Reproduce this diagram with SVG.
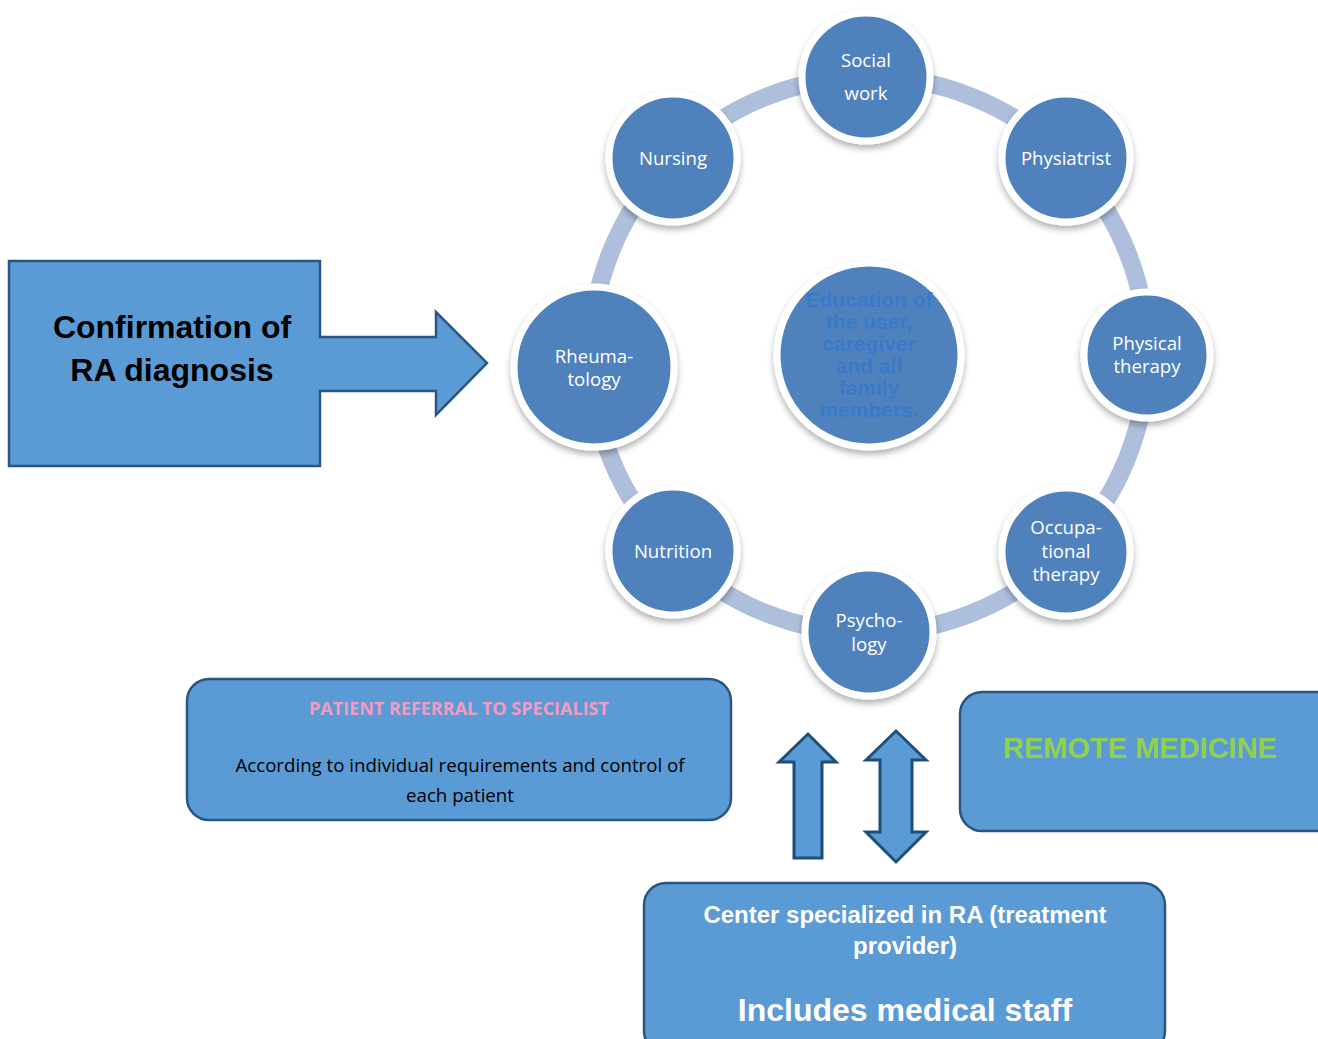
<svg xmlns="http://www.w3.org/2000/svg" width="1318" height="1039" viewBox="0 0 1318 1039">
<style>
.node{fill:#4f81bd;stroke:#fff;stroke-width:7;filter:url(#sh)}
.nt{font-family:"Open Sans","Liberation Sans",sans-serif;font-size:18.6px;fill:#fff;text-anchor:middle}
.box{fill:#5b9bd5;stroke:#2a5686;stroke-width:2.5}
.arr{fill:#5b9bd5;stroke:#1f4e79;stroke-width:3;stroke-linejoin:miter}
</style>
<defs>
<filter id="sh" x="-20%" y="-20%" width="140%" height="150%">
<feDropShadow dx="0" dy="4" stdDeviation="3" flood-color="#000" flood-opacity="0.3"/>
</filter>
</defs>
<rect width="1318" height="1039" fill="#fff"/>
<g id="connectors">
<circle cx="869" cy="355" r="278" fill="none" stroke="#aebfdc" stroke-width="18"/>
<polygon class="arr" points="779,762 808,734 836,762 822,762 822,858 794,858 794,762"/>
<polygon class="arr" points="866,760 896,731 926,760 912,760 912,832 926,832 896,862 866,832 880,832 880,760"/>
</g>
<g id="confirm">
<polygon class="box" points="9,261 320,261 320,337 436,337 436,312 487,363 436,415 436,391 320,391 320,466 9,466"/>
<text x="172" y="338" font-family="Liberation Sans,Arial,sans-serif" font-weight="bold" font-size="32" text-anchor="middle" fill="#000">Confirmation of</text>
<text x="172" y="381" font-family="Liberation Sans,Arial,sans-serif" font-weight="bold" font-size="32" text-anchor="middle" fill="#000">RA diagnosis</text>
</g>
<g id="social"><circle class="node" cx="866" cy="77" r="64"/><text class="nt" x="866" y="67">Social</text><text class="nt" x="866" y="100">work</text></g>
<g id="physiatrist"><circle class="node" cx="1066" cy="158" r="64"/><text class="nt" x="1066" y="165">Physiatrist</text></g>
<g id="physical"><circle class="node" cx="1147" cy="355" r="63"/><text class="nt" x="1147" y="350">Physical</text><text class="nt" x="1147" y="373">therapy</text></g>
<g id="occupational"><circle class="node" cx="1066" cy="552" r="64"/><text class="nt" x="1066" y="534">Occupa-</text><text class="nt" x="1066" y="558">tional</text><text class="nt" x="1066" y="581">therapy</text></g>
<g id="psychology"><circle class="node" cx="869" cy="632" r="64"/><text class="nt" x="869" y="627">Psycho-</text><text class="nt" x="869" y="651">logy</text></g>
<g id="nutrition"><circle class="node" cx="673" cy="551" r="64"/><text class="nt" x="673" y="558">Nutrition</text></g>
<g id="rheumatology"><circle class="node" cx="594" cy="367" r="80"/><text class="nt" x="594" y="363">Rheuma-</text><text class="nt" x="594" y="386">tology</text></g>
<g id="nursing"><circle class="node" cx="673" cy="158" r="64"/><text class="nt" x="673" y="165">Nursing</text></g>
<g id="education"><circle class="node" cx="869" cy="355" r="92"/>
<g font-family="Liberation Sans,Arial,sans-serif" font-weight="bold" font-size="21" fill="#3a79c8" text-anchor="middle">
<text x="869" y="307">Education of</text><text x="869" y="329">the user,</text><text x="869" y="351">caregiver</text><text x="869" y="373">and all</text><text x="869" y="395">family</text><text x="869" y="417">members.</text>
</g></g>
<g id="referral">
<rect class="box" x="187" y="679" width="544" height="141" rx="22"/>
<text x="459" y="715" font-family="Open Sans,Liberation Sans,sans-serif" font-weight="bold" font-size="18" fill="#f49ac1" text-anchor="middle">PATIENT REFERRAL TO SPECIALIST</text>
<text x="460" y="772" font-family="Open Sans,Liberation Sans,sans-serif" font-size="18.7" fill="#000" text-anchor="middle">According to individual requirements and control of</text>
<text x="460" y="802" font-family="Open Sans,Liberation Sans,sans-serif" font-size="18.7" fill="#000" text-anchor="middle">each patient</text>
</g>
<g id="remote">
<rect class="box" x="960" y="692" width="380" height="139" rx="22"/>
<text x="1140" y="758" font-family="Liberation Sans,Arial,sans-serif" font-weight="bold" font-size="29" fill="#92d050" text-anchor="middle">REMOTE MEDICINE</text>
</g>
<g id="center">
<rect class="box" x="644" y="883" width="521" height="170" rx="22"/>
<text x="905" y="923" font-family="Liberation Sans,Arial,sans-serif" font-weight="bold" font-size="24" fill="#fff" text-anchor="middle">Center specialized in RA (treatment</text>
<text x="905" y="954" font-family="Liberation Sans,Arial,sans-serif" font-weight="bold" font-size="24" fill="#fff" text-anchor="middle">provider)</text>
<text x="905" y="1021" font-family="Liberation Sans,Arial,sans-serif" font-weight="bold" font-size="32" fill="#fff" text-anchor="middle">Includes medical staff</text>
</g>
</svg>
